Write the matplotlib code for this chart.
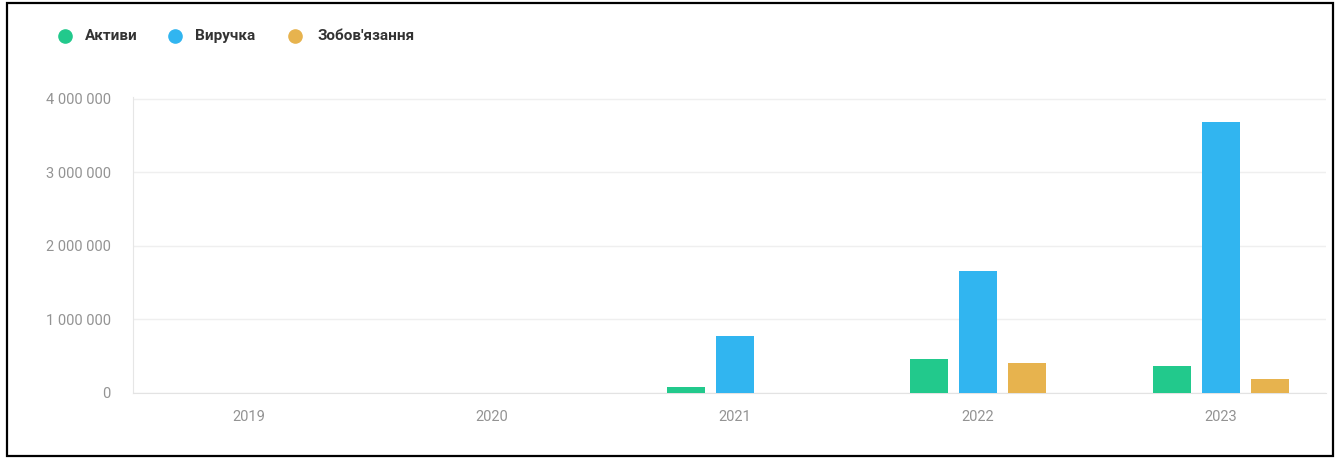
import matplotlib.pyplot as plt
from matplotlib.lines import Line2D
from matplotlib.patches import Rectangle
from matplotlib.ticker import FuncFormatter
import numpy as np

plt.rcParams['font.family'] = ['Roboto', 'DejaVu Sans']

years = ["2019", "2020", "2021", "2022", "2023"]
series_names = ["Активи", "Виручка", "Зобов'язання"]
aktyvy = [0, 0, 80000, 460000, 370000]
vyruchka = [0, 0, 780000, 1660000, 3690000]
zobovyazannya = [0, 0, 0, 410000, 190000]
colors = ["#22c98c", "#31b5f0", "#e7b34e"]

W, H = 1343, 459
fig = plt.figure(figsize=(W / 100, H / 100), dpi=100)
# axes box in pixels: x 133..1326, y 97..393
ax = fig.add_axes([133 / W, 1 - 393 / H, (1326 - 133) / W, (393 - 97) / H])

x = np.arange(len(years))
bw = 0.156
step = 0.2016
for i, vals in enumerate([aktyvy, vyruchka, zobovyazannya]):
    ax.bar(x + (i - 1) * step, vals, width=bw, color=colors[i], zorder=3)

ax.set_xlim(-0.477, 4.432)
ax.set_ylim(0, 4027000)
ax.set_yticks([0, 1000000, 2000000, 3000000, 4000000])
ax.yaxis.set_major_formatter(FuncFormatter(lambda v, p: f"{int(v):,}".replace(",", " ")))
ax.set_xticks(x)
ax.set_xticklabels(years)

ax.grid(axis='y', color='#efefef', linewidth=1, zorder=0)
for s in ['top', 'right']:
    ax.spines[s].set_visible(False)
ax.spines['left'].set_color('#e6e6e6')
ax.spines['bottom'].set_color('#e3e3e3')
ax.tick_params(axis='both', length=0, colors='#939393', labelsize=10.5)
ax.tick_params(axis='y', pad=16)
ax.tick_params(axis='x', pad=12)

# legend drawn by hand at the top left
leg_x = [65, 175, 295]
txt_x = [85, 195, 317]
for cx, tx, c, name in zip(leg_x, txt_x, colors, series_names):
    fig.add_artist(Line2D([cx / W], [1 - 36 / H], marker='o', markersize=9.5,
                          color=c, linestyle='none', transform=fig.transFigure))
    fig.text(tx / W, 1 - 40 / H, name, fontsize=11, fontweight='bold',
             color='#333333', va='baseline', ha='left')

# outer black frame
fig.add_artist(Rectangle((7 / W, 1 - 456 / H), (1333 - 7) / W, (456 - 3) / H,
                         transform=fig.transFigure, fill=False,
                         edgecolor='black', linewidth=1.6))

fig.savefig("out.png", dpi=100)
